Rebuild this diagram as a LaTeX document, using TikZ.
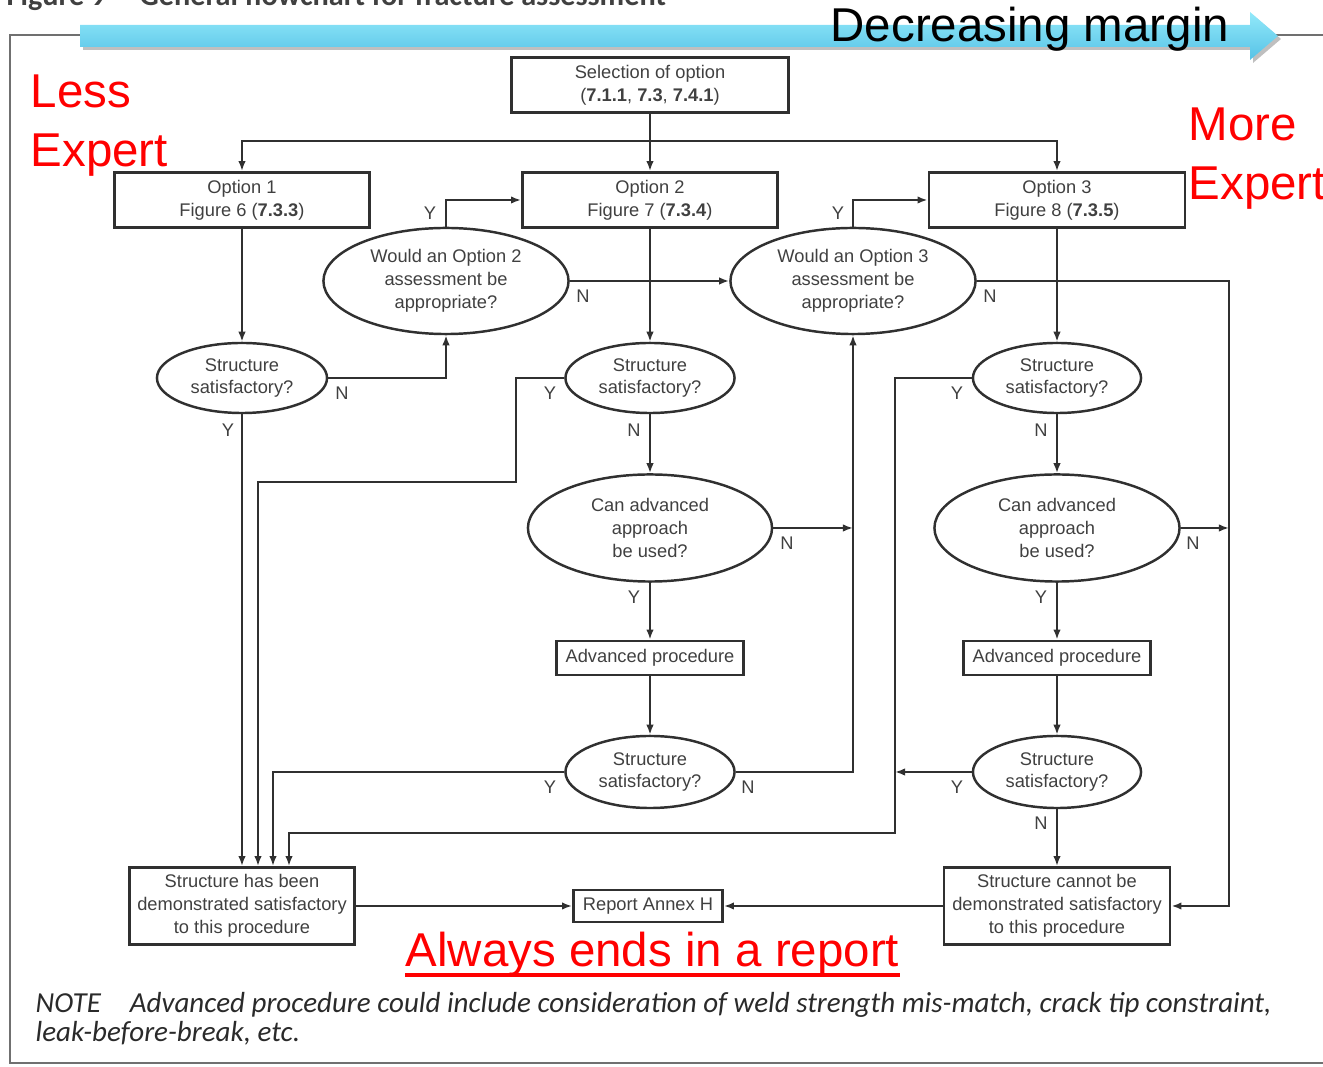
\documentclass[tikz,border=0pt]{standalone}
\usepackage{fontspec}
\setmainfont{Liberation Sans}
\newfontfamily\notefont{Carlito}
\usetikzlibrary{arrows.meta,calc,shapes.geometric}

\definecolor{ink}{HTML}{303030}
\definecolor{txt}{HTML}{404040}
\definecolor{frame}{HTML}{707070}
\definecolor{bluetop}{HTML}{92E9FA}
\definecolor{bluebot}{HTML}{56C2E6}
\definecolor{notecol}{HTML}{2A2A2A}

\tikzset{
  chart/.style={text=txt, font=\fontsize{5.2}{6.5}\selectfont},
  box/.style={chart, draw=ink, line width=0.8pt, rectangle, inner sep=0pt, align=center},
  query/.style={chart, draw=ink, line width=0.7pt, ellipse, inner sep=0pt, align=center},
  yn/.style={chart, inner sep=0pt},
  wire/.style={draw=ink, line width=0.6pt},
  arr/.style={-{Latex[length=1mm,width=0.75mm]}},
  redlabel/.style={text=red, font=\fontsize{13.5}{17}\selectfont, align=left, inner sep=0pt}
}

\begin{document}
\begin{tikzpicture}[x=0.01cm,y=-0.01cm]
\useasboundingbox (0,0) rectangle (1323,1067);
\pgfmathsetmacro{\xa}{242}
\pgfmathsetmacro{\xb}{650}
\pgfmathsetmacro{\xc}{1057}

\node[anchor=base west, inner sep=0pt, text=txt, font=\notefont\bfseries\fontsize{8.6}{10}\selectfont] (title) at (6,6) {Figure 9\hspace{1.1em}General flowchart for fracture assessment};
\draw[frame, line width=0.8pt] (1340,35) -- (10,35) -- (10,1063) -- (1340,1063);

\fill[black, opacity=0.25] (83,28) -- (1253,28) -- (1253,15) -- (1281,39) -- (1253,63) -- (1253,50) -- (83,50) -- cycle;
\shade[top color=bluetop, bottom color=bluebot] (80,25) -- (1250,25) -- (1250,12) -- (1278,36) -- (1250,60) -- (1250,47) -- (80,47) -- cycle;
\node[anchor=base west, inner sep=0pt, font=\fontsize{13.5}{17}\selectfont] (margin) at (830,42) {Decreasing margin};

\node[redlabel, anchor=base west] (less) at (30,167) {Less\\Expert};
\node[redlabel, anchor=base west] (more) at (1188,200) {More\\Expert};

\node[box, minimum width=2.77cm, minimum height=0.55cm] (sel) at (\xb,85) {Selection of option\\(\textbf{7.1.1}, \textbf{7.3}, \textbf{7.4.1})};
\node[box, minimum width=2.55cm, minimum height=0.55cm] (opt1) at (\xa,200) {Option 1\\Figure 6 (\textbf{7.3.3})};
\node[box, minimum width=2.55cm, minimum height=0.55cm] (opt2) at (\xb,200) {Option 2\\Figure 7 (\textbf{7.3.4})};
\node[box, minimum width=2.56cm, minimum height=0.55cm] (opt3) at (\xc,200) {Option 3\\Figure 8 (\textbf{7.3.5})};
\node[query, minimum width=2.45cm, minimum height=1.06cm] (q2) at (446,281) {Would an Option 2\\assessment be\\appropriate?};
\node[query, minimum width=2.45cm, minimum height=1.06cm] (q3) at (853,281) {Would an Option 3\\assessment be\\appropriate?};
\node[query, minimum width=1.70cm, minimum height=0.70cm] (s1) at (\xa,378) {Structure\\satisfactory?};
\node[query, minimum width=1.69cm, minimum height=0.70cm] (s2) at (\xb,378) {Structure\\satisfactory?};
\node[query, minimum width=1.68cm, minimum height=0.70cm] (s3) at (\xc,378) {Structure\\satisfactory?};
\node[query, minimum width=2.44cm, minimum height=1.07cm] (c2) at (\xb,528) {Can advanced\\approach\\be used?};
\node[query, minimum width=2.45cm, minimum height=1.07cm] (c3) at (\xc,528) {Can advanced\\approach\\be used?};
\node[box, minimum width=1.87cm, minimum height=0.34cm] (a2) at (\xb,658) {Advanced procedure};
\node[box, minimum width=1.87cm, minimum height=0.34cm] (a3) at (\xc,658) {Advanced procedure};
\node[query, minimum width=1.69cm, minimum height=0.72cm] (t2) at (\xb,772) {Structure\\satisfactory?};
\node[query, minimum width=1.68cm, minimum height=0.72cm] (t3) at (\xc,772) {Structure\\satisfactory?};
\node[box, minimum width=2.25cm, minimum height=0.77cm] (ok) at (\xa,906) {Structure has been\\demonstrated satisfactory\\to this procedure};
\node[box, minimum width=1.49cm, minimum height=0.32cm] (rep) at (648,906) {Report Annex H};
\node[box, minimum width=2.26cm, minimum height=0.77cm] (no) at (\xc,906) {Structure cannot be\\demonstrated satisfactory\\to this procedure};

\coordinate (split) at (\xb,141);
\coordinate (rail) at (1229,0);
\coordinate (loop2) at (516,482);
\coordinate (loop3) at (895,833);

\draw[wire] (sel.south) -- (split);
\draw[wire,arr] (split) -| (opt1.north);
\draw[wire,arr] (split) -| (opt3.north);
\draw[wire,arr] (split) -- (opt2.north);
\draw[wire,arr] (opt1.south) -- (s1.north);
\draw[wire,arr] (s1.east) -| (q2.south);
\draw[wire,arr] (s1.south) -- (ok.north);
\draw[wire,arr] (q2.north) |- (opt2.west);
\draw[wire,arr] (q2.east) -- (q3.west);
\draw[wire,arr] (opt2.south) -- (s2.north);
\draw[wire,arr] (s2.west) -| (loop2) -| ($(ok.north)+(16,0)$);
\draw[wire,arr] (s2.south) -- (c2.north);
\draw[wire,arr] (c2.east) -- (c2.east -| q3.south);
\draw[wire,arr] (c2.south) -- (a2.north);
\draw[wire,arr] (a2.south) -- (t2.north);
\draw[wire,arr] (t2.east) -| (q3.south);
\draw[wire,arr] (t2.west) -| ($(ok.north)+(31,0)$);
\draw[wire,arr] (q3.north) |- (opt3.west);
\draw[wire,arr] (q3.east) -| (rail |- no.east) -- (no.east);
\draw[wire,arr] (opt3.south) -- (s3.north);
\draw[wire,arr] (s3.west) -| (loop3) -| ($(ok.north)+(47,0)$);
\draw[wire,arr] (s3.south) -- (c3.north);
\draw[wire,arr] (c3.east) -- (c3.east -| rail);
\draw[wire,arr] (c3.south) -- (a3.north);
\draw[wire,arr] (a3.south) -- (t3.north);
\draw[wire,arr] (t3.west) -- (t3.west -| loop3);
\draw[wire,arr] (t3.south) -- (no.north);
\draw[wire,arr] (ok.east) -- (rep.west);
\draw[wire,arr] (no.west) -- (rep.east);

\foreach \pos/\lab [count=\k] in {{342,393}/N, {228,430}/Y, {430,213}/Y, {583,296}/N, {550,393}/Y, {634,430}/N,
  {787,543}/N, {634,597}/Y, {748,787}/N, {550,787}/Y, {838,213}/Y, {990,296}/N, {957,393}/Y,
  {1041,430}/N, {1193,543}/N, {1041,597}/Y, {957,787}/Y, {1041,823}/N}
  \node[yn] (lab\k) at (\pos) {\lab};

\node[redlabel, anchor=base west] (always) at (405,967) {Always ends in a report};
\draw[red, line width=0.9pt] ($(always.base west)+(0,8)$) -- ($(always.base east)+(0,8)$);

\node[anchor=base west, inner sep=0pt, align=left, text=notecol, font=\notefont\itshape\fontsize{8.25}{8.5}\selectfont] (note) at (35,1042) {NOTE\hspace{1em}Advanced procedure could include consideration of weld strength mis-match, crack tip constraint,\\leak-before-break, etc.};
\end{tikzpicture}
\end{document}
